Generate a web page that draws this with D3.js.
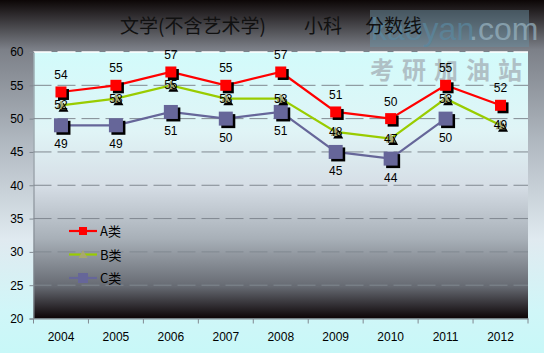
<!DOCTYPE html>
<html>
<head>
<meta charset="utf-8">
<script src="https://cdn.jsdelivr.net/npm/d3@7"></script>
<style>
  body { margin: 0; padding: 0; }
  svg { display: block; }
  text { font-family: "Liberation Sans", "DejaVu Sans", sans-serif; }
</style>
</head>
<body>
<div id="chart"></div>
<script>
// Data
var years = ["2004", "2005", "2006", "2007", "2008", "2009", "2010", "2011", "2012"];
var seriesA = [54, 55, 57, 55, 57, 51, 50, 55, 52];
var seriesB = [52, 53, 55, 53, 53, 48, 47, 53, 49];
var seriesC = [49, 49, 51, 50, 51, 45, 44, 50, null];
var seriesNames = ["A类", "B类", "C类"];
var yTicks = [20, 25, 30, 35, 40, 45, 50, 55, 60];
var titleParts = ["文学(不含艺术学)", "小科", "分数线"];

var width = 544;
var height = 353;
var plot = { left: 33.5, right: 528, top: 52, bottom: 318.5 };

var svg = d3.select("#chart").append("svg")
    .attr("width", width)
    .attr("height", height);

var defs = svg.append("defs");

// outer background gradient
var bg = defs.append("linearGradient").attr("id", "bg")
    .attr("x1", 0).attr("y1", 0).attr("x2", 0).attr("y2", 1);
bg.append("stop").attr("offset", "0").attr("stop-color", "#0c0606");
bg.append("stop").attr("offset", "0.14").attr("stop-color", "#7c8088");
bg.append("stop").attr("offset", "0.4").attr("stop-color", "#b0b8c0");
bg.append("stop").attr("offset", "0.68").attr("stop-color", "#e0eaf0");
bg.append("stop").attr("offset", "0.88").attr("stop-color", "#d0f6f8");
bg.append("stop").attr("offset", "1").attr("stop-color", "#c8f8f8");

// plot area gradient
var pg = defs.append("linearGradient").attr("id", "pg")
    .attr("x1", 0).attr("y1", 0).attr("x2", 0).attr("y2", 1);
pg.append("stop").attr("offset", "0").attr("stop-color", "#d2fbfb");
pg.append("stop").attr("offset", "0.3").attr("stop-color", "#e0f4f6");
pg.append("stop").attr("offset", "0.5").attr("stop-color", "#d6dee6");
pg.append("stop").attr("offset", "0.7").attr("stop-color", "#a8b0b8");
pg.append("stop").attr("offset", "0.88").attr("stop-color", "#666a72");
pg.append("stop").attr("offset", "1").attr("stop-color", "#0c0406");

svg.append("rect")
    .attr("width", width).attr("height", height)
    .style("fill", "url(#bg)");

svg.append("rect")
    .attr("x", plot.left).attr("y", plot.top)
    .attr("width", plot.right - plot.left)
    .attr("height", plot.bottom - plot.top)
    .style("fill", "url(#pg)");

// Scales
var xScale = d3.scaleBand().domain(years).range([plot.left, plot.right]);
var yScale = d3.scaleLinear().domain([20, 60]).range([plot.bottom, plot.top]);
var cx = function (i) { return xScale(years[i]) + xScale.bandwidth() / 2; };

// watermark
svg.append("rect")
    .attr("x", 370).attr("y", 10).attr("width", 159).attr("height", 37)
    .style("fill", "#6a8ea0").style("opacity", 0.5);
svg.append("text")
    .attr("x", 371).attr("y", 40)
    .style("font-size", "32px").style("font-family", "'Liberation Sans Narrow', 'Liberation Sans', sans-serif")
    .style("fill", "#5a88a0").style("opacity", 0.7)
    .text("kaoyan");
svg.append("text")
    .attr("x", 469).attr("y", 40)
    .style("font-size", "32px").style("font-family", "'Liberation Sans Narrow', 'Liberation Sans', sans-serif")
    .style("fill", "#98b4c2").style("opacity", 0.7)
    .text(".com");
svg.append("text")
    .attr("x", 370).attr("y", 79)
    .style("font-size", "24px").style("font-weight", "bold")
    .style("font-family", "'Noto Sans CJK SC', sans-serif")
    .style("letter-spacing", "8px")
    .style("fill", "#a0a8b0").style("opacity", 0.7)
    .text("考研加油站");

// Gridlines
svg.append("g")
    .selectAll("line")
    .data(yTicks.filter(d => d > 20 && d < 60))
    .enter().append("line")
    .attr("x1", plot.left).attr("x2", plot.right)
    .attr("y1", d => yScale(d)).attr("y2", d => yScale(d))
    .style("stroke", "#808890").style("stroke-width", 1)
    .style("stroke-dasharray", "18,6");
svg.append("line")
    .attr("x1", plot.left).attr("x2", plot.right)
    .attr("y1", yScale(60)).attr("y2", yScale(60))
    .style("stroke", "#ffffff").style("stroke-width", 1.5)
    .style("stroke-dasharray", "18,6");

// Axes
var yAxis = d3.axisLeft(yScale).tickValues(yTicks).tickSize(4).tickPadding(6);
var gy = svg.append("g").attr("transform", "translate(" + plot.left + ",0)").call(yAxis);
gy.select(".domain").style("stroke", "#808890");
gy.selectAll(".tick line").style("stroke", "#808890");
gy.selectAll("text").style("font-size", "12px").style("fill", "#000");

var xAxis = d3.axisBottom(xScale).tickSize(0).tickPadding(14);
var gx = svg.append("g").attr("transform", "translate(0," + plot.bottom + ")").call(xAxis);
gx.select(".domain").style("stroke", "#808890");
gx.selectAll("text").style("font-size", "12px").style("fill", "#000");
gx.selectAll(".bound")
    .data(d3.range(years.length + 1))
    .enter().append("line")
    .attr("x1", i => plot.left + i * xScale.bandwidth())
    .attr("x2", i => plot.left + i * xScale.bandwidth())
    .attr("y1", 0).attr("y2", 5)
    .style("stroke", "#808890");

// Series
var series = [
    { name: seriesNames[0], values: seriesA, color: "#ff0000", marker: "square", size: 11, fill: "#ff0000" },
    { name: seriesNames[1], values: seriesB, color: "#99cc00", marker: "triangle", size: 10, fill: "#a8a870" },
    { name: seriesNames[2], values: seriesC, color: "#666699", marker: "square", size: 14, fill: "#666699" }
];

var line = d3.line()
    .defined(d => d != null)
    .x((d, i) => cx(i))
    .y(d => yScale(d));

series.slice().reverse().forEach(function (s) {
    svg.append("path")
        .datum(s.values)
        .attr("d", line)
        .style("fill", "none")
        .style("stroke", s.color)
        .style("stroke-width", 2.2);
});

function drawMarker(g, s, x, y, shadow) {
    var h = s.size / 2;
    var off = shadow ? 2.5 : 0;
    if (s.marker === "square") {
        g.append("rect")
            .attr("x", x - h + off).attr("y", y - h + off)
            .attr("width", s.size).attr("height", s.size)
            .style("fill", shadow ? "#000" : s.fill);
    } else {
        g.append("path")
            .attr("d", "M" + (x + off) + "," + (y - h + off) + "L" + (x + h + off) + "," + (y + h - 1 + off) + "L" + (x - h + off) + "," + (y + h - 1 + off) + "Z")
            .style("fill", shadow ? "#000" : s.fill);
    }
}

series.slice().reverse().forEach(function (s) {
    var g = svg.append("g");
    s.values.forEach(function (v, i) {
        if (v == null) return;
        drawMarker(g, s, cx(i), yScale(v), true);
        drawMarker(g, s, cx(i), yScale(v), false);
    });
});

// Data labels
var labelOffset = [-13, 4, 23];
series.forEach(function (s, k) {
    var pts = s.values.map((v, i) => ({ v: v, i: i })).filter(p => p.v != null);
    svg.append("g").selectAll("text")
        .data(pts)
        .enter().append("text")
        .attr("x", p => cx(p.i))
        .attr("y", p => yScale(p.v) + labelOffset[k])
        .attr("text-anchor", "middle")
        .style("font-size", "12px")
        .style("fill", "#000")
        .text(p => p.v);
});

// Legend
var legend = svg.append("g");
series.forEach(function (s, k) {
    var ly = 231 + k * 23.5;
    legend.append("line")
        .attr("x1", 69).attr("x2", 97)
        .attr("y1", ly).attr("y2", ly)
        .style("stroke", s.color).style("stroke-width", 2.2);
    var ls = Object.assign({}, s, { size: s.marker === "square" ? (k === 0 ? 8 : 10) : 9 });
    drawMarker(legend, ls, 83, ly, false);
    legend.append("text")
        .attr("x", 100).attr("y", ly + 5)
        .style("font-size", "13px")
        .style("font-family", "'Noto Sans CJK SC', sans-serif")
        .text(s.name);
});

// Title
var titleX = [120, 304, 365];
svg.append("g").selectAll("text")
    .data(titleParts)
    .enter().append("text")
    .attr("x", (d, i) => titleX[i]).attr("y", 33)
    .style("font-size", "19px")
    .style("font-family", "'Noto Sans CJK SC', sans-serif")
    .style("fill", "#111")
    .text(d => d);
</script>
</body>
</html>
